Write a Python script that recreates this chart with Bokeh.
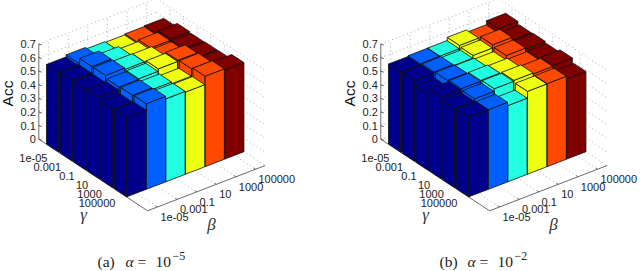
from bokeh.plotting import figure
from bokeh.embed import file_html
from bokeh.resources import INLINE
from bokeh.core.properties import value

beta_labels = ["1e-05", "0.001", "0.1", "10", "1000", "100000"]
gamma_labels = ["1e-05", "0.001", "0.1", "10", "1000", "100000"]
z_ticks = [0, 0.1, 0.2, 0.3, 0.4, 0.5, 0.6, 0.7]
z_labels = ["0", "0.1", "0.2", "0.3", "0.4", "0.5", "0.6", "0.7"]
colors = ["#00008c", "#0060ff", "#20ffdf", "#efff10", "#ff4800", "#800000"]

# rows: gamma, columns: beta
acc_a = [
    [.585, .600, .587, .581, .587, .592],
    [.593, .640, .617, .598, .610, .620],
    [.590, .640, .630, .627, .608, .614],
    [.600, .620, .626, .643, .650, .618],
    [.577, .625, .613, .600, .654, .620],
    [.584, .629, .610, .604, .665, .655],
]
acc_b = [
    [.588, .594, .595, .618, .600, .629],
    [.593, .599, .591, .610, .633, .610],
    [.561, .603, .597, .590, .620, .614],
    [.602, .608, .613, .607, .600, .604],
    [.582, .600, .618, .624, .617, .623],
    [.587, .585, .560, .609, .610, .590],
]

BX, BY = 19.6, -7.55
GX, GY = 13.6, 8.95
ZS = 136.0
GMIN, GMAX = 0.0, 8.0
BMIN, BMAX = 0.5, 6.5
ORG_X, ORG_Y = 38.3, 138.7
WB, WG = 0.49, 0.45

p = figure(width=640, height=271, x_range=(0, 640), y_range=(271, 0),
           output_backend="svg", toolbar_location=None, min_border=0)
p.xaxis.visible = False
p.yaxis.visible = False
p.grid.visible = False
p.outline_line_color = None
p.background_fill_color = "white"


def panel(acc, dx, cap, exp):
    def P(b, g, z=0.0):
        return (dx + ORG_X + (b - BMIN) * BX + (g - GMIN) * GX,
                ORG_Y + (b - BMIN) * BY + (g - GMIN) * GY - z * ZS)

    def seg(a, c, **kw):
        p.line([a[0], c[0]], [a[1], c[1]], **kw)

    grid = dict(line_color="#666666", line_dash="1 3", line_width=0.7, line_alpha=0.8)
    axis = dict(line_color="#444444", line_width=0.8)
    top = z_ticks[-1]
    for z in z_ticks:
        seg(P(BMIN, GMIN, z), P(BMAX, GMIN, z), **grid)
        seg(P(BMAX, GMIN, z), P(BMAX, GMAX, z), **grid)
    for i in range(6):
        b = i + 1
        seg(P(b, GMIN, 0), P(b, GMIN, top), **grid)
        seg(P(b, GMIN, 0), P(b, GMAX, 0), **grid)
        seg(P(BMAX, b, 0), P(BMAX, b, top), **grid)
        seg(P(BMIN, b, 0), P(BMAX, b, 0), **grid)
    seg(P(BMIN, GMIN, 0), P(BMIN, GMIN, top), **axis)
    seg(P(BMIN, GMIN, 0), P(BMIN, GMAX, 0), **axis)
    seg(P(BMIN, GMAX, 0), P(BMAX, GMAX, 0), **axis)
    for z in z_ticks:
        a = P(BMIN, GMIN, z)
        seg(a, (a[0] + 3, a[1] + 1), **axis)
    for i in range(6):
        a = P(BMIN, i + 1, 0)
        seg(a, (a[0] + 2.5, a[1] - 1), **axis)
        a = P(i + 1, GMAX, 0)
        seg(a, (a[0] - 1.5, a[1] - 1.5), **axis)
    for g in range(6):
        for b in range(5, -1, -1):
            h = acc[g][b]
            gc, bc = g + 1, b + 1
            g0, g1, b0, b1 = gc - WG, gc + WG, bc - WB, bc + WB
            faces = [
                [P(b0, g0, 0), P(b0, g1, 0), P(b0, g1, h), P(b0, g0, h)],
                [P(b0, g1, 0), P(b1, g1, 0), P(b1, g1, h), P(b0, g1, h)],
                [P(b0, g0, h), P(b1, g0, h), P(b1, g1, h), P(b0, g1, h)],
            ]
            p.patches([[q[0] for q in f] for f in faces],
                      [[q[1] for q in f] for f in faces],
                      fill_color=colors[b], line_color="#101010", line_width=0.8)
    tick = dict(text_font=value("Liberation Sans"), text_font_size="11px",
                text_color="#222222")
    for z, lab in zip(z_ticks, z_labels):
        a = P(BMIN, GMIN, z)
        p.text([a[0] - 3], [a[1]], text=[lab], text_align="right",
               text_baseline="middle", **tick)
    for i, lab in enumerate(gamma_labels):
        a = P(BMIN, i + 1, 0)
        p.text([a[0] - 5], [a[1] + 10], text=[lab], text_align="right",
               text_baseline="middle", **tick)
    for i, lab in enumerate(beta_labels):
        a = P(i + 1, GMAX, 0)
        p.text([a[0] + 3], [a[1] + 10], text=[lab], text_align="left",
               text_baseline="middle", **tick)
    greek = dict(text_font=value("Liberation Serif"), text_font_style="italic",
                 text_font_size="17px", text_color="#333333",
                 text_align="center", text_baseline="middle")
    p.text([dx + 83], [214], text=["γ"], **greek)
    p.text([dx + 211], [224], text=["β"], **greek)
    p.text([dx + 7], [93], text=["Acc"], angle=[1.5708], text_align="center",
           text_baseline="middle", text_font=value("Liberation Sans"),
           text_font_size="15.5px", text_color="#111111")
    capt = dict(text_font=value("Liberation Serif"), text_font_size="15.5px",
                text_color="#222222", text_baseline="alphabetic", text_align="left")
    cx = dx + 97
    base = 261
    p.text([cx], [base], text=[cap], **capt)
    p.text([cx + 28], [base], text=["α"], text_font_style="italic", **capt)
    p.text([cx + 40], [base], text=["="], **capt)
    p.text([cx + 58], [base], text=["10"], **capt)
    sup = dict(capt)
    sup["text_font_size"] = "12px"
    p.text([cx + 75], [base - 6], text=[exp], **sup)


panel(acc_a, 0, "(a)", "−5")
panel(acc_b, 342, "(b)", "−2")

open("out.html", "w").write(file_html(p, INLINE))
